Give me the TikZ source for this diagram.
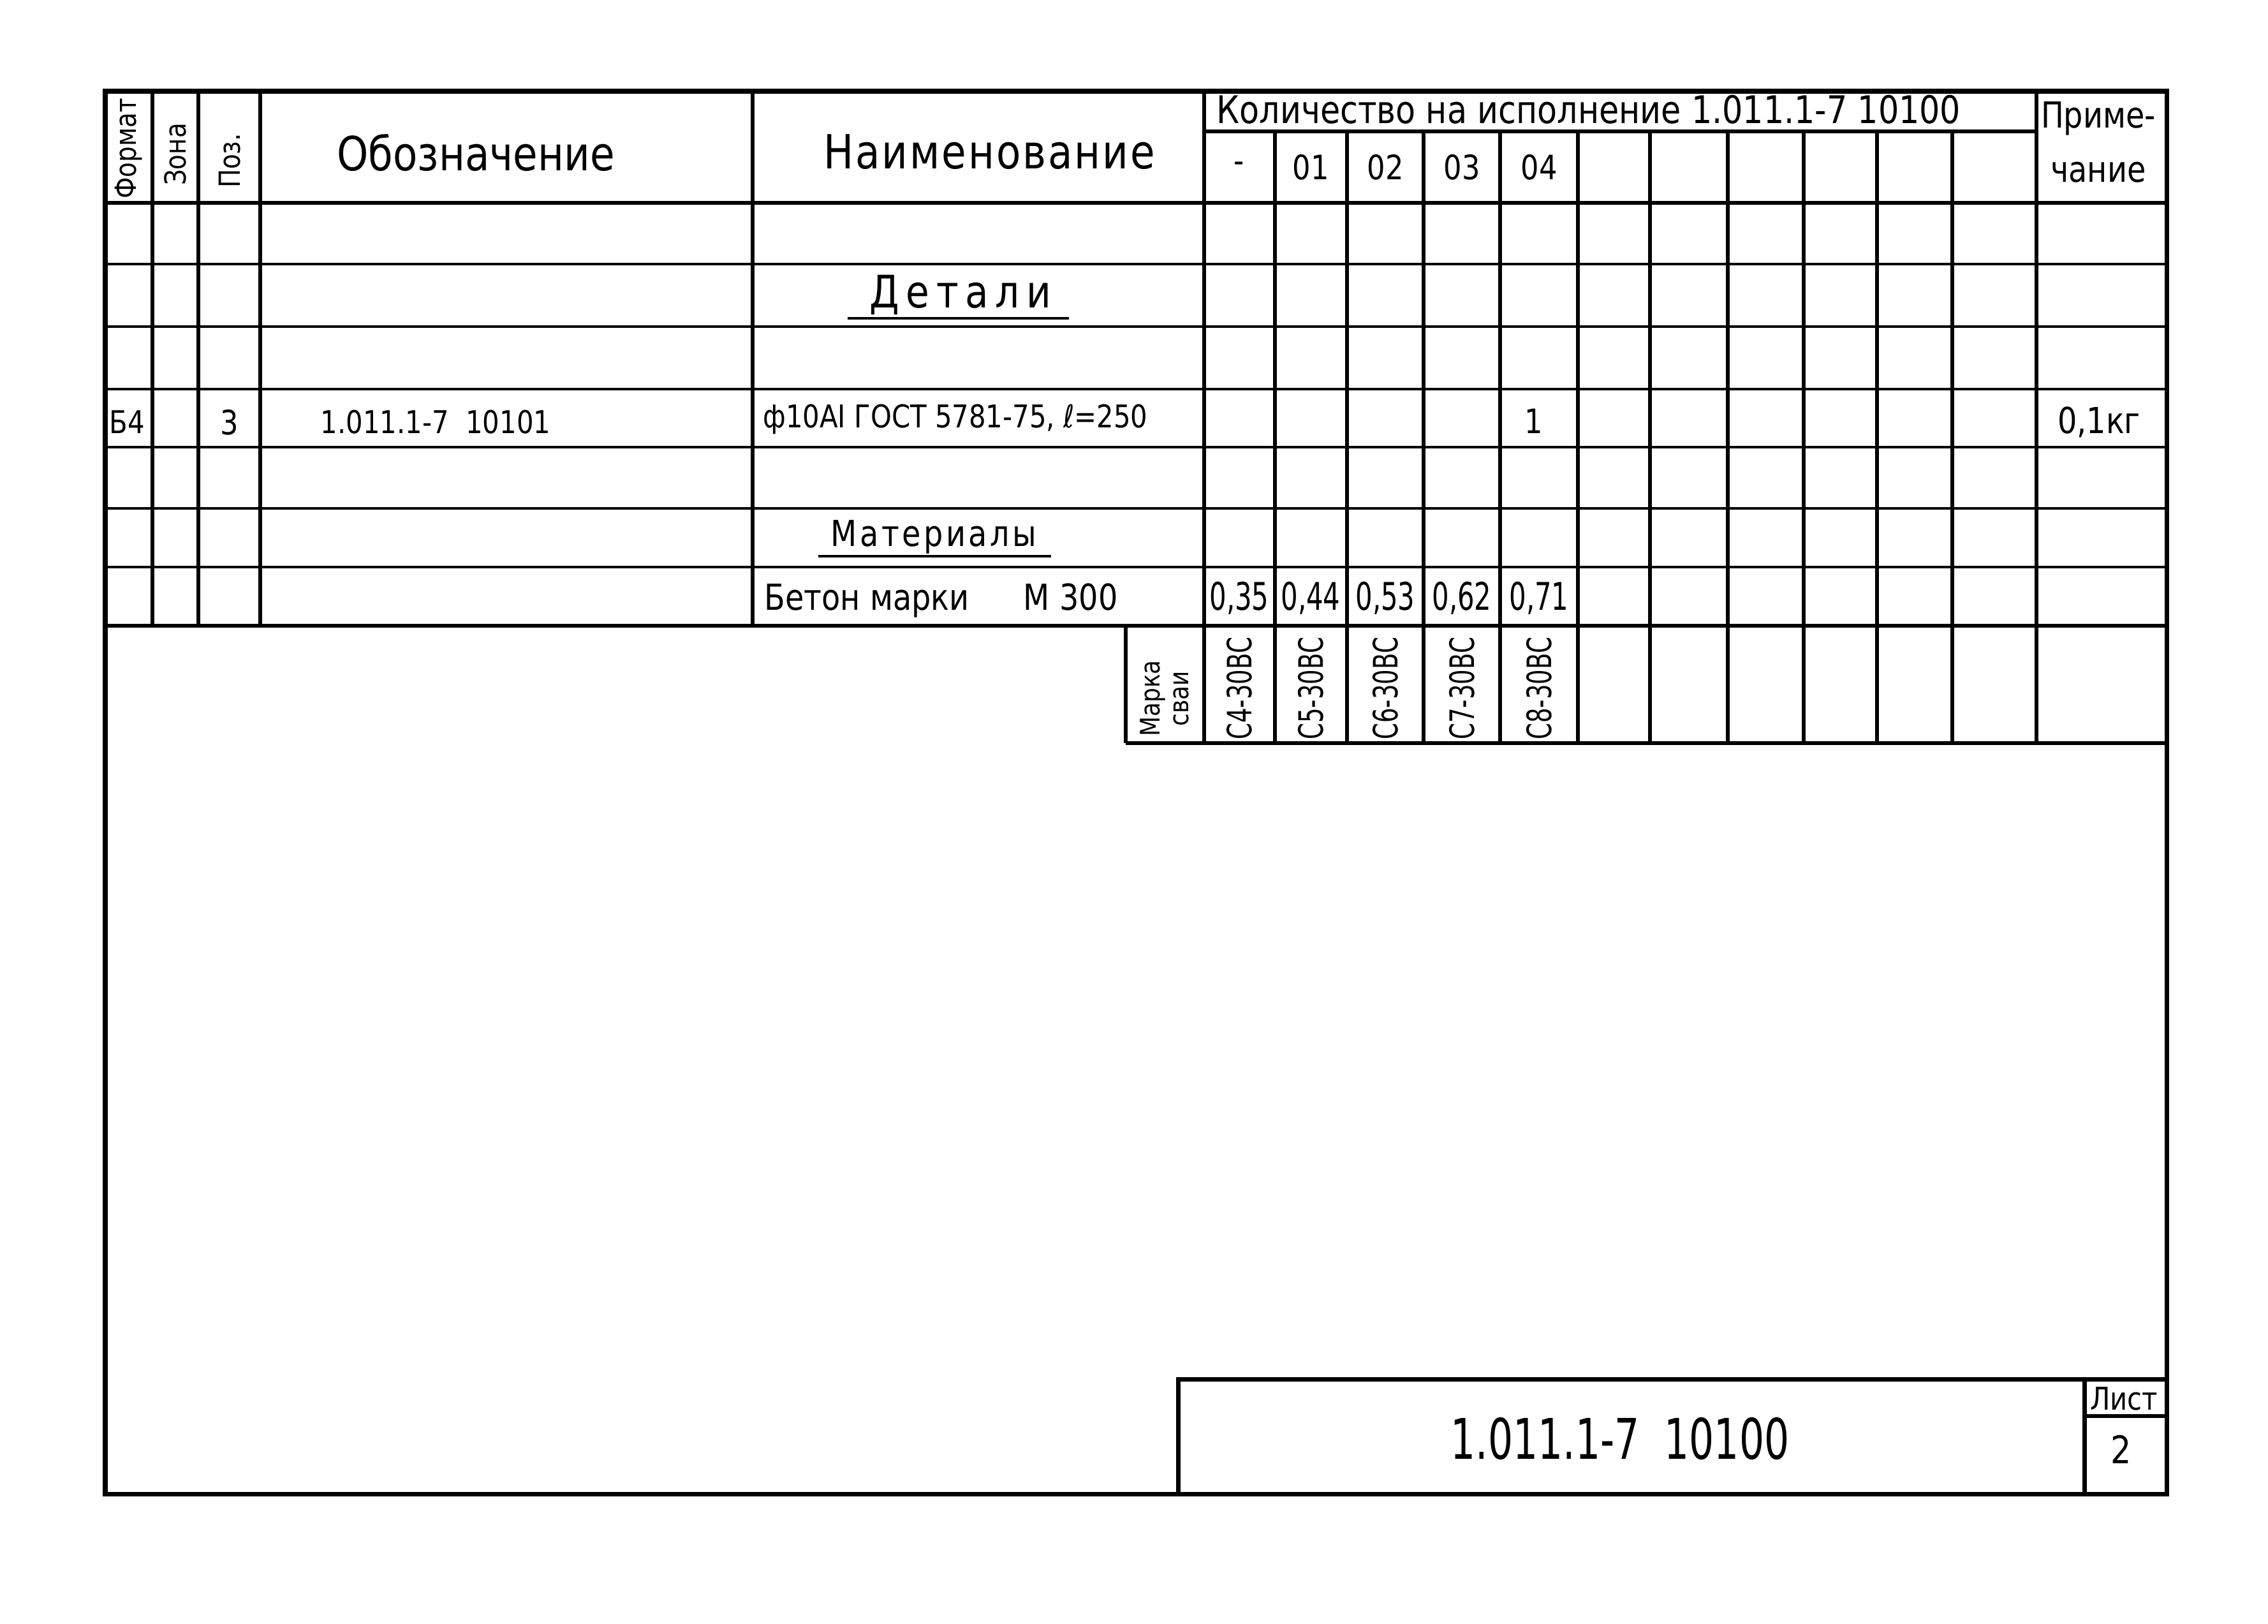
\documentclass[tikz,border=0pt]{standalone}
\usepackage{fontspec}
\setmainfont{DejaVu Sans}[FakeStretch=0.85]
\newfontfamily\narrowfont{DejaVu Sans}[FakeStretch=0.7]
\usepackage{tikz}

\begin{document}
\begin{tikzpicture}[
  frame/.style={line width=2pt},
  rule/.style={line width=1.6pt},
  thinrule/.style={line width=0.9pt},
  headtext/.style={font=\fontsize{21}{24}\selectfont},
  celltext/.style={font=\fontsize{15}{18}\selectfont},
  smalltext/.style={font=\fontsize{13}{15}\selectfont},
  numtext/.style={font=\narrowfont\fontsize{17}{20}\selectfont},
  marktext/.style={font=\narrowfont\fontsize{15}{18}\selectfont, rotate=90}
]

\useasboundingbox (0,0) rectangle (35.56,-25.46);

% Define coordinates for the corners of the sheet
\coordinate (TL) at (1.65,-1.43);
\coordinate (BR) at (33.97,-23.42);

% Draw the outer frame
\draw[frame] (TL) rectangle (BR);

% Draw the horizontal lines of the table
\draw[rule] (18.88,-2.06) -- (31.93,-2.06);
\draw[rule] (1.65,-3.18) -- (33.97,-3.18);
\draw[thinrule] (1.65,-4.14) -- (33.97,-4.14);
\draw[thinrule] (1.65,-5.12) -- (33.97,-5.12);
\draw[thinrule] (1.65,-6.10) -- (33.97,-6.10);
\draw[thinrule] (1.65,-7.01) -- (33.97,-7.01);
\draw[thinrule] (1.65,-7.97) -- (33.97,-7.97);
\draw[thinrule] (1.65,-8.89) -- (33.97,-8.89);
\draw[rule] (1.65,-9.81) -- (33.97,-9.81);
\draw[rule] (17.65,-11.65) -- (33.97,-11.65);

% Draw the vertical lines of the table
\draw[rule] (2.39,-1.43) -- (2.39,-9.81);
\draw[rule] (3.11,-1.43) -- (3.11,-9.81);
\draw[rule] (4.08,-1.43) -- (4.08,-9.81);
\draw[rule] (11.80,-1.43) -- (11.80,-9.81);
\draw[rule] (18.88,-1.43) -- (18.88,-11.65);
\draw[rule] (31.93,-1.43) -- (31.93,-11.65);
\draw[rule] (17.65,-9.81) -- (17.65,-11.65);
\draw[rule] (19.99,-2.06) -- (19.99,-11.65);
\draw[rule] (21.12,-2.06) -- (21.12,-11.65);
\draw[rule] (22.32,-2.06) -- (22.32,-11.65);
\draw[rule] (23.52,-2.06) -- (23.52,-11.65);
\draw[rule] (24.74,-2.06) -- (24.74,-11.65);
\draw[rule] (25.87,-2.06) -- (25.87,-11.65);
\draw[rule] (27.09,-2.06) -- (27.09,-11.65);
\draw[rule] (28.28,-2.06) -- (28.28,-11.65);
\draw[rule] (29.43,-2.06) -- (29.43,-11.65);
\draw[rule] (30.61,-2.06) -- (30.61,-11.65);

% Draw the title block
\draw[frame] (18.47,-23.42) -- (18.47,-21.62) -- (33.97,-21.62);
\draw[frame] (32.68,-21.62) -- (32.68,-23.42);
\draw[rule] (32.68,-22.20) -- (33.97,-22.20);

% Header labels
\node[smalltext, rotate=90] (format) at (2.02,-2.33) {Формат};
\node[smalltext, rotate=90] (zona) at (2.75,-2.42) {Зона};
\node[smalltext, rotate=90] (poz) at (3.60,-2.52) {Поз.};
\node[headtext] (oboz) at (7.46,-2.39) {Обозначение};
\node[headtext, font=\fontsize{21}{24}\selectfont\addfontfeature{LetterSpace=4}] (naim) at (15.51,-2.38) {Наименование};
\node[celltext, font=\fontsize{17}{20}\selectfont, anchor=west] (kol) at (18.95,-1.72) {Количество на исполнение 1.011.1-7 10100};
\node[celltext] (isp0) at (19.43,-2.62) {-};
\node[celltext] (isp1) at (20.55,-2.62) {01};
\node[celltext] (isp2) at (21.72,-2.62) {02};
\node[celltext] (isp3) at (22.92,-2.62) {03};
\node[celltext] (isp4) at (24.13,-2.62) {04};
\node[celltext, font=\fontsize{16}{19}\selectfont] (prim1) at (32.90,-1.86) {Приме-};
\node[celltext, font=\fontsize{16}{19}\selectfont] (prim2) at (32.90,-2.70) {чание};

% Section titles with underlines
\node[font=\fontsize{20}{24}\selectfont\addfontfeature{LetterSpace=15}] (detali) at (15.06,-4.62) {Детали};
\draw[thinrule] (13.29,-4.99) -- (16.76,-4.99);
\node[font=\fontsize{16}{19}\selectfont\addfontfeature{LetterSpace=8}] (mater) at (14.64,-8.42) {Материалы};
\draw[thinrule] (12.83,-8.72) -- (16.48,-8.72);

% Row of the detail
\node[celltext, font=\fontsize{14}{17}\selectfont] (b4) at (1.99,-6.62) {Б4};
\node[celltext] (pos3) at (3.60,-6.62) {3};
\node[celltext, font=\fontsize{14}{17}\selectfont] (oboz3) at (6.83,-6.62) {1.011.1-7~~10101};
\node[celltext, font=\fontsize{14}{17}\selectfont, anchor=west] (naim3) at (11.84,-6.57) {ф10АI ГОСТ 5781-75, ℓ=250};
\node[celltext] (kol3) at (24.05,-6.60) {1};
\node[celltext, font=\fontsize{16}{19}\selectfont] (prim3) at (32.91,-6.62) {0,1кг};

% Row of the concrete
\node[celltext, font=\fontsize{16}{19}\selectfont, anchor=west] (beton) at (11.86,-9.41) {Бетон марки\hspace{0.85cm}М 300};
\node[numtext] (b0) at (19.43,-9.38) {0,35};
\node[numtext] (b1) at (20.55,-9.38) {0,44};
\node[numtext] (b2) at (21.72,-9.38) {0,53};
\node[numtext] (b3) at (22.92,-9.38) {0,62};
\node[numtext] (b4v) at (24.13,-9.38) {0,71};

% Pile marks
\node[smalltext, font=\fontsize{12}{13}\selectfont, rotate=90, align=center] (marka) at (18.26,-10.95) {Марка\\сваи};
\node[marktext] (m0) at (19.43,-10.79) {С4-30ВС};
\node[marktext] (m1) at (20.55,-10.79) {С5-30ВС};
\node[marktext] (m2) at (21.72,-10.79) {С6-30ВС};
\node[marktext] (m3) at (22.92,-10.79) {С7-30ВС};
\node[marktext] (m4) at (24.13,-10.79) {С8-30ВС};

% Title block labels
\node[font=\narrowfont\fontsize{25}{29}\selectfont] (title) at (25.40,-22.55) {1.011.1-7~~10100};
\node[font=\fontsize{14}{16}\selectfont] (list) at (33.30,-21.93) {Лист};
\node[font=\fontsize{17}{20}\selectfont] (listno) at (33.26,-22.72) {2};

\end{tikzpicture}
\end{document}
